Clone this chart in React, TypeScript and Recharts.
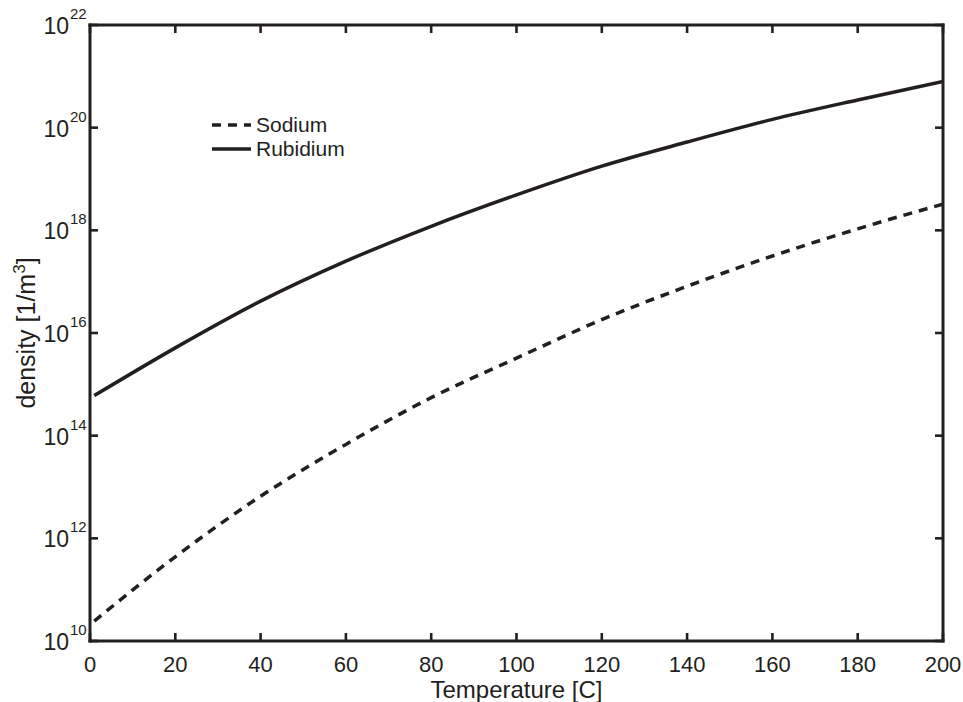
import React from 'react';
import { LineChart, Line, XAxis, YAxis, Legend } from 'recharts';

const INK = '#231f20';
const FONT = "'Liberation Sans', Arial, sans-serif";

// Temperature in degrees Celsius
const temperatures = [1, 20, 40, 60, 80, 100, 120, 140, 160, 180, 200];
// Vapour number density in 1/m^3
const sodium = [2.45e10, 4.37e11, 6.61e12, 6.76e13, 5.5e14, 3.24e15, 1.82e16, 8.13e16, 3.16e17, 1.07e18, 3.24e18];
const rubidium = [6.03e14, 5.13e15, 4.17e16, 2.51e17, 1.2e18, 4.9e18, 1.78e19, 5.25e19, 1.45e20, 3.47e20, 7.94e20];

const xTicks = [0, 20, 40, 60, 80, 100, 120, 140, 160, 180, 200];
const yExponents = [10, 12, 14, 16, 18, 20, 22];
const yTicks = yExponents.map((e) => Math.pow(10, e));

const seriesStyles = [
  { key: 'sodium', name: 'Sodium', dash: '9 7' },
  { key: 'rubidium', name: 'Rubidium', dash: undefined as string | undefined },
];

const data = temperatures.map((t, i) => ({ t, sodium: sodium[i], rubidium: rubidium[i] }));

const TICK_LEN = 8;
const TICK_W = 2.6;
const axisLine = { stroke: INK, strokeWidth: 3, strokeLinecap: 'square' as const };

const BottomTick = (props: any) => {
  const { x, y, payload } = props;
  return (
    <g>
      <line x1={x} x2={x} y1={y} y2={y - TICK_LEN} stroke={INK} strokeWidth={TICK_W} />
      <text x={x} y={y + 31} textAnchor="middle" fontFamily={FONT} fontSize={22} fill={INK}>
        {payload.value}
      </text>
    </g>
  );
};

const TopTick = (props: any) => {
  const { x, y } = props;
  return <line x1={x} x2={x} y1={y} y2={y + TICK_LEN} stroke={INK} strokeWidth={TICK_W} />;
};

const LeftTick = (props: any) => {
  const { x, y, payload } = props;
  const exp = Math.round(Math.log10(payload.value));
  return (
    <g>
      <line x1={x} x2={x + TICK_LEN} y1={y} y2={y} stroke={INK} strokeWidth={TICK_W} />
      <text x={x - 21} y={y + 9} textAnchor="end" fontFamily={FONT} fontSize={23} fill={INK}>
        10
      </text>
      <text x={x - 20} y={y - 6} textAnchor="start" fontFamily={FONT} fontSize={15} fill={INK}>
        {exp}
      </text>
    </g>
  );
};

const RightTick = (props: any) => {
  const { x, y } = props;
  return <line x1={x} x2={x - TICK_LEN} y1={y} y2={y} stroke={INK} strokeWidth={TICK_W} />;
};

const XLabel = (props: any) => {
  const vb = props.viewBox;
  return (
    <text x={vb.x + vb.width / 2} y={vb.y + 57} textAnchor="middle" fontFamily={FONT} fontSize={24} fill={INK}>
      Temperature [C]
    </text>
  );
};

const YLabel = (props: any) => {
  const vb = props.viewBox;
  const cx = vb.x + 35;
  const cy = vb.y + vb.height / 2;
  return (
    <text
      x={cx}
      y={cy}
      transform={`rotate(-90 ${cx} ${cy})`}
      textAnchor="middle"
      fontFamily={FONT}
      fontSize={25}
      fill={INK}
    >
      <tspan>density [1/m</tspan>
      <tspan dy={-10} fontSize={17}>3</tspan>
      <tspan dy={10}>]</tspan>
    </text>
  );
};

const LegendContent = () => (
  <div style={{ fontFamily: FONT, fontSize: 21, color: INK }}>
    {seriesStyles.map((s) => (
      <div key={s.key} style={{ display: 'flex', alignItems: 'center', height: 24 }}>
        <svg width={40} height={6} style={{ display: 'block' }}>
          <line x1={0} x2={39} y1={3} y2={3} stroke={INK} strokeWidth={3.5} strokeDasharray={s.dash} />
        </svg>
        <span style={{ marginLeft: 4, lineHeight: '24px' }}>{s.name}</span>
      </div>
    ))}
  </div>
);

export default function App() {
  return (
    <div style={{ position: 'absolute', left: 0, top: 0, background: '#fff' }}>
      <LineChart width={963} height={702} data={data} margin={{ top: 0, right: 0, bottom: 0, left: 0 }}>
        <XAxis
          dataKey="t"
          type="number"
          domain={[0, 200]}
          ticks={xTicks}
          interval={0}
          allowDataOverflow
          height={61}
          tickSize={0}
          tickMargin={0}
          tickLine={false}
          axisLine={axisLine}
          tick={<BottomTick />}
          label={<XLabel />}
        />
        <XAxis
          xAxisId="top"
          orientation="top"
          dataKey="t"
          type="number"
          domain={[0, 200]}
          ticks={xTicks}
          interval={0}
          allowDataOverflow
          height={25}
          tickSize={0}
          tickMargin={0}
          tickLine={false}
          axisLine={axisLine}
          tick={<TopTick />}
        />
        <YAxis
          type="number"
          scale="log"
          domain={[1e10, 1e22]}
          ticks={yTicks}
          interval={0}
          allowDataOverflow
          width={90}
          tickSize={0}
          tickMargin={0}
          tickLine={false}
          axisLine={axisLine}
          tick={<LeftTick />}
          label={<YLabel />}
        />
        <YAxis
          yAxisId="right"
          orientation="right"
          type="number"
          scale="log"
          domain={[1e10, 1e22]}
          ticks={yTicks}
          interval={0}
          allowDataOverflow
          width={20}
          tickSize={0}
          tickMargin={0}
          tickLine={false}
          axisLine={axisLine}
          tick={<RightTick />}
        />
        {seriesStyles.map((s) => (
          <Line
            key={s.key}
            dataKey={s.key}
            name={s.name}
            type="monotone"
            stroke={INK}
            strokeWidth={3.5}
            strokeDasharray={s.dash}
            dot={false}
            activeDot={false}
            isAnimationActive={false}
          />
        ))}
        <Legend
          layout="horizontal"
          verticalAlign="middle"
          align="center"
          content={<LegendContent />}
          wrapperStyle={{ position: 'absolute', left: 212, top: 113, width: 200 }}
        />
      </LineChart>
    </div>
  );
}
